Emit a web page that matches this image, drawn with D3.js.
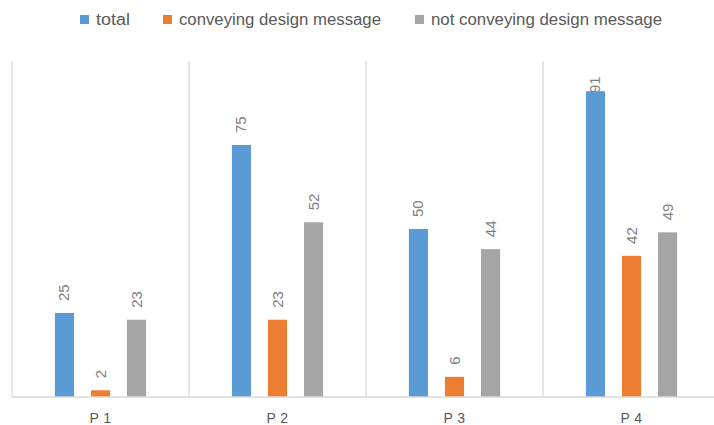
<!DOCTYPE html>
<html>
<head>
<meta charset="utf-8">
<script src="https://cdn.jsdelivr.net/npm/d3@7/dist/d3.min.js"></script>
<style>
  html, body { margin: 0; padding: 0; background: #fff; }
  svg { display: block; font-family: "Liberation Sans", Arial, sans-serif; }
</style>
</head>
<body>
<svg id="chart" width="714" height="425"></svg>
<script>
const categories = ["P 1", "P 2", "P 3", "P 4"];
const seriesNames = ["total", "conveying design message", "not conveying design message"];
const total = [25, 75, 50, 91];
const conveying = [2, 23, 6, 42];
const notConveying = [23, 52, 44, 49];
const seriesValues = [total, conveying, notConveying];
const colors = ["#5B9BD5", "#ED7D31", "#A5A5A5"];

const svg = d3.select("#chart");
const x0 = d3.scaleBand().domain(categories).range([12, 720]).padding(0);
const x1 = d3.scaleBand().domain(seriesNames).range([0, x0.bandwidth()])
  .paddingInner(0.47).paddingOuter(1.19);
const y = d3.scaleLinear().domain([0, 100]).range([397, 61]);

// category separators
const seps = [...categories.map(c => x0(c)), x0.range()[1]];
svg.append("g").selectAll("line").data(seps).join("line")
  .attr("x1", d => d).attr("x2", d => d)
  .attr("y1", y(100)).attr("y2", y(0))
  .attr("stroke", "#D9D9D9").attr("stroke-width", 1.3);

// bars
const rows = [];
categories.forEach((c, i) => seriesNames.forEach((s, j) => rows.push({c, s, j, v: seriesValues[j][i]})));
svg.append("g").selectAll("rect").data(rows).join("rect")
  .attr("x", d => x0(d.c) + x1(d.s))
  .attr("y", d => y(d.v))
  .attr("width", x1.bandwidth())
  .attr("height", d => y(0) - y(d.v))
  .attr("fill", d => colors[d.j]);

// baseline axis
svg.append("line").attr("x1", 12).attr("x2", 714).attr("y1", y(0)).attr("y2", y(0))
  .attr("stroke", "#D9D9D9").attr("stroke-width", 1.3);

// category labels
const xAxis = d3.axisBottom(x0).tickSize(0).tickPadding(0);
const ax = svg.append("g").attr("transform", `translate(0,${y(0)})`).call(xAxis);
ax.select(".domain").remove();
ax.selectAll("text").attr("dy", null).attr("y", 26)
  .attr("fill", "#595959").style("font-size", "14px")
  .style("font-family", "'Liberation Sans', Arial, sans-serif")
  .attr("letter-spacing", "0.5");

// data labels
svg.append("g").selectAll("text").data(rows).join("text")
  .attr("transform", d => {
    const cx = x0(d.c) + x1(d.s) + x1.bandwidth() / 2;
    const by = Math.max(y(d.v) - 12, 93);
    return `translate(${cx + 5},${by}) rotate(-90)`;
  })
  .attr("text-anchor", "start")
  .attr("fill", "#7F7F7F")
  .style("font-size", "15px")
  .text(d => d.v);

// legend
const legendItems = [
  {name: seriesNames[0], sx: 80, tx: 96, w: 34},
  {name: seriesNames[1], sx: 163, tx: 179, w: 202},
  {name: seriesNames[2], sx: 415, tx: 431, w: 231}
];
const lg = svg.append("g");
legendItems.forEach((it, i) => {
  lg.append("rect").attr("x", it.sx).attr("y", 15).attr("width", 9).attr("height", 9).attr("fill", colors[i]);
  lg.append("text").attr("x", it.tx).attr("y", 25).attr("fill", "#595959")
    .style("font-size", "16px")
    .attr("textLength", it.w).attr("lengthAdjust", "spacingAndGlyphs")
    .text(it.name);
});
</script>
</body>
</html>
